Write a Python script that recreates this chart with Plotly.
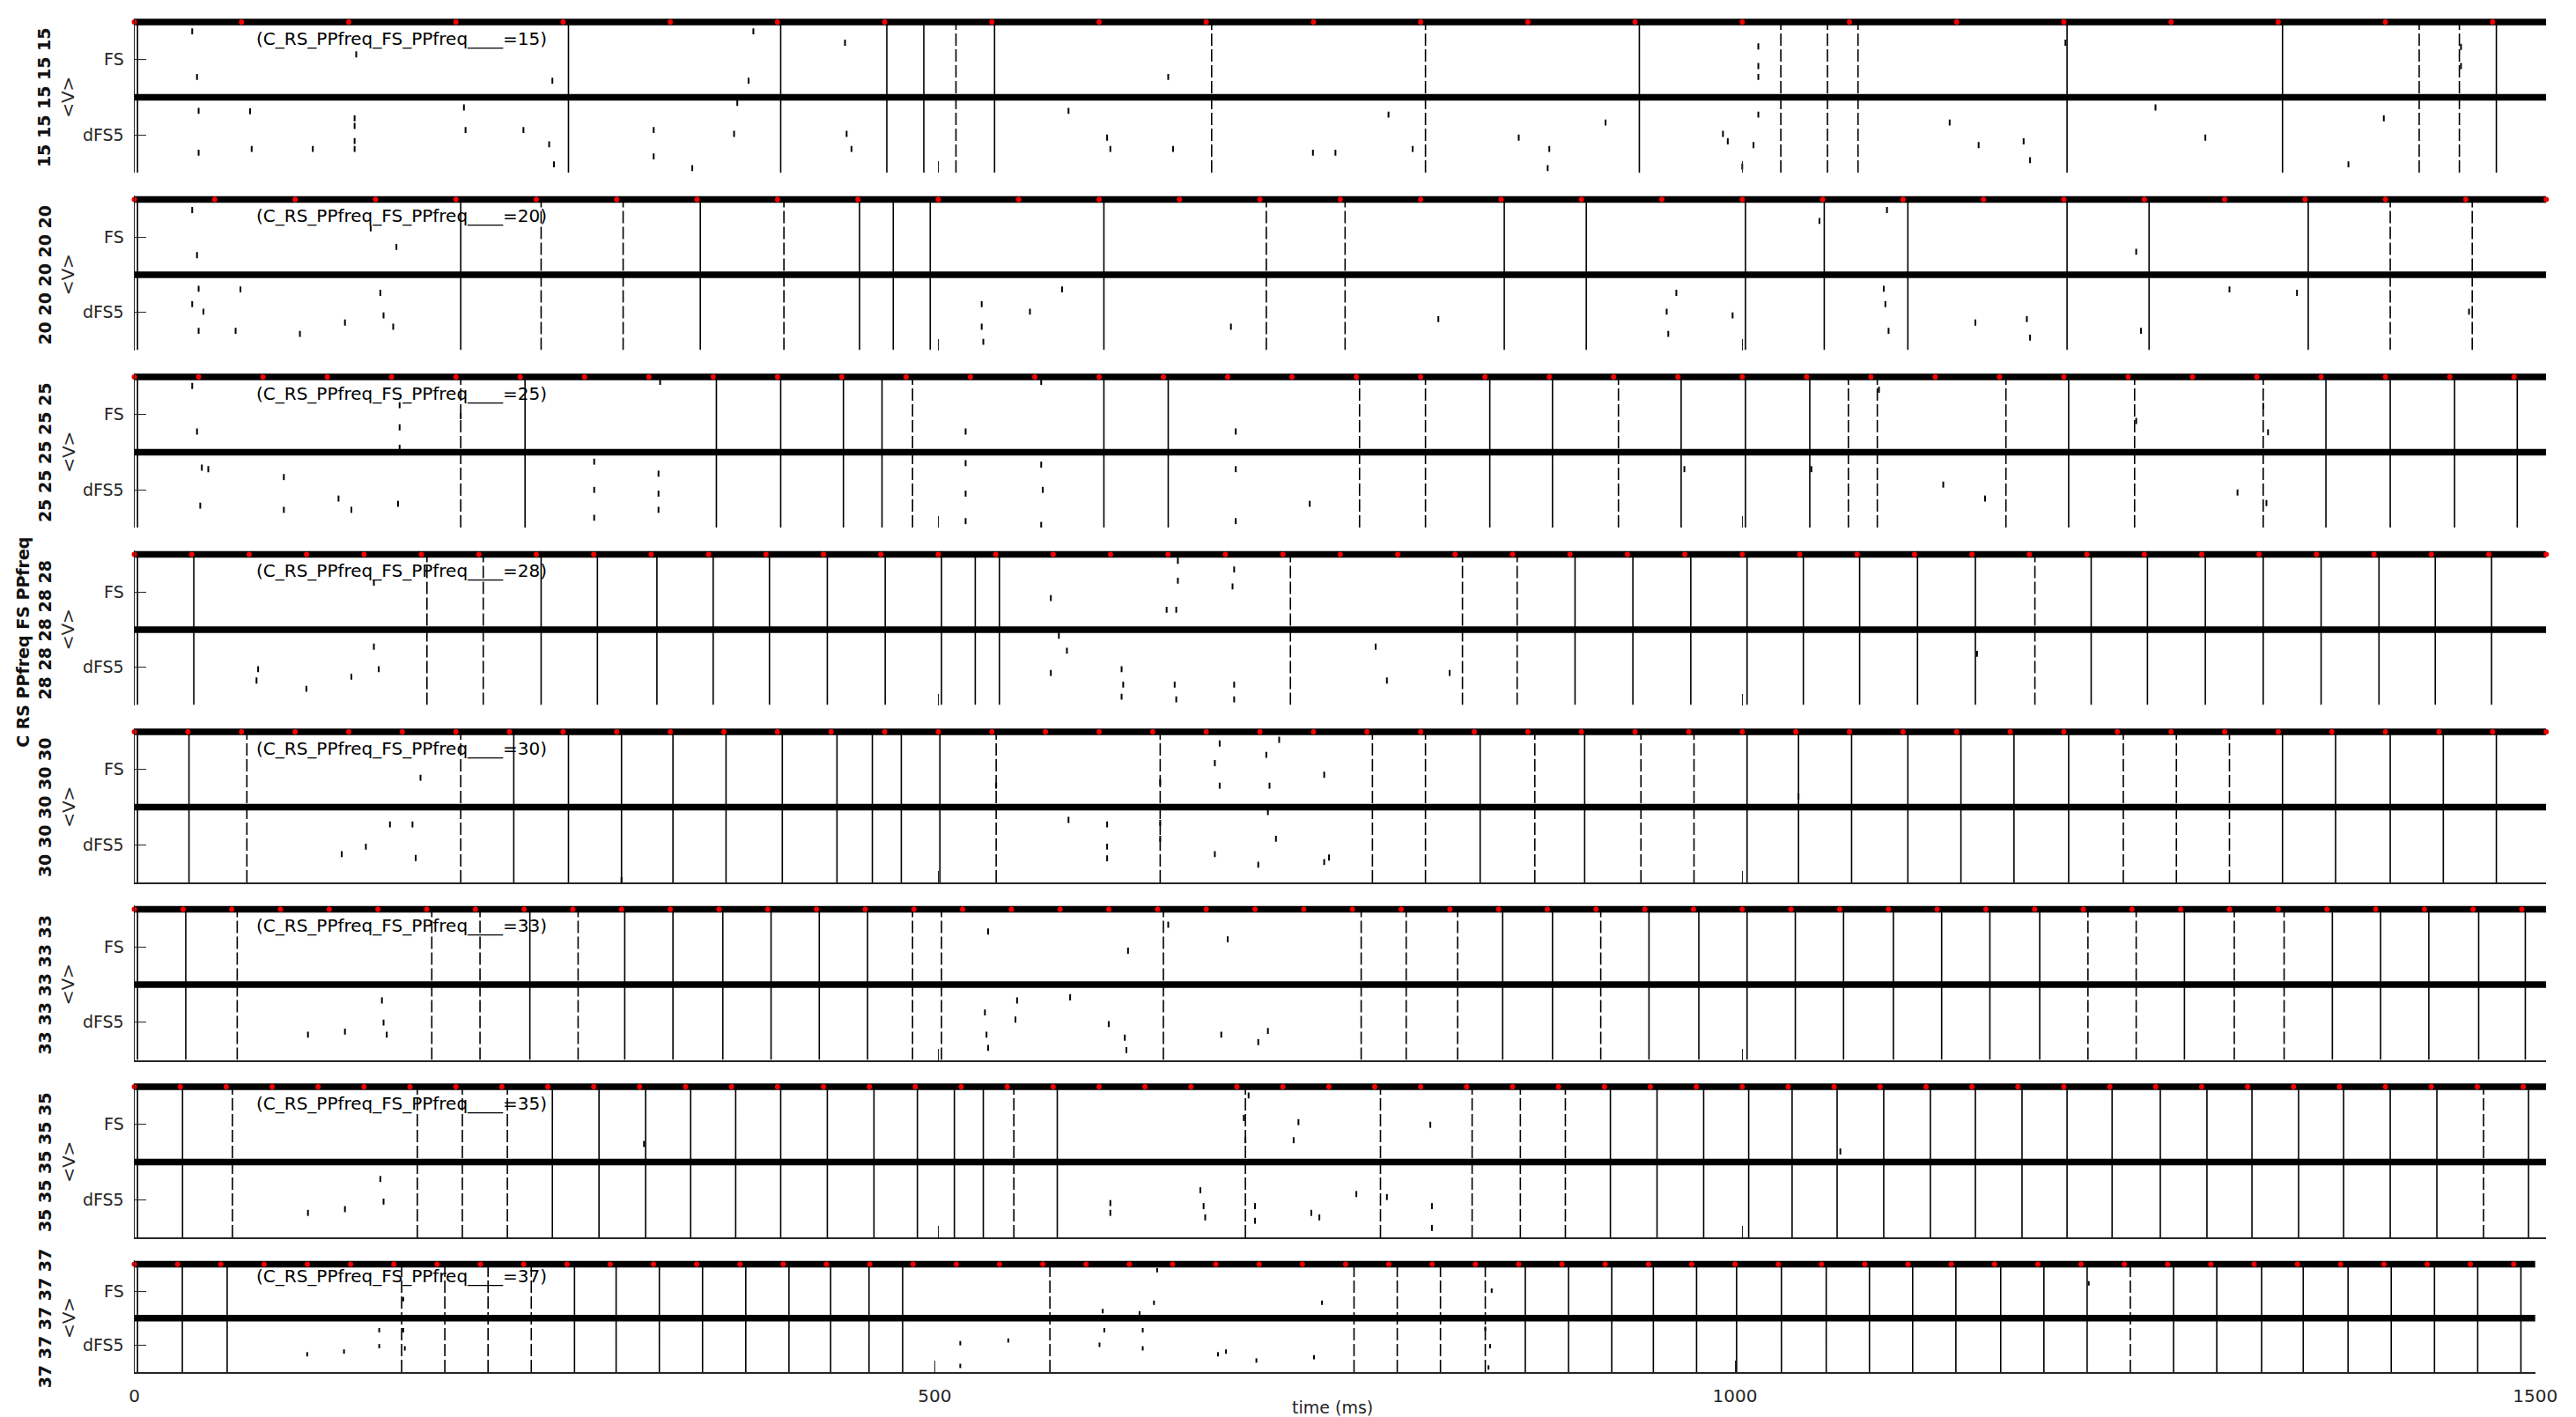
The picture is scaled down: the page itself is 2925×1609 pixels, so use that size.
import plotly.graph_objects as go

# ---------------- data ----------------
freqs = [15, 20, 25, 28, 30, 33, 35, 37]
x_ticks = [0, 500, 1000, 1500]
x_tick_labels = ["0", "500", "1000", "1500"]
y_ticks = [10, 30]
y_tick_labels = ["dFS5", "FS"]
t_end = 1500

# population volleys (ms): near-complete (solid) and broken (dashed)
solid_15 = [2, 270, 402, 468, 491, 535, 936, 1202, 1336, 1469]
dashed_15 = [511, 670, 803, 1024, 1053, 1072, 1421, 1446]
solid_20 = [2, 203, 352, 451, 472, 495, 603, 852, 903, 1002, 1051, 1103, 1202, 1253, 1352]
dashed_20 = [253, 304, 404, 704, 753, 1403, 1454]
solid_25 = [2, 243, 362, 402, 441, 465, 603, 643, 843, 882, 962, 1002, 1042, 1203, 1363, 1403, 1443, 1482]
dashed_25 = [203, 484, 762, 803, 923, 1066, 1084, 1164, 1244, 1324]
solid_28 = [2, 37, 253, 288, 325, 360, 395, 431, 467, 502, 523, 538, 896, 932, 968, 1003, 1038,
            1073, 1109, 1145, 1217, 1252, 1288, 1324, 1360, 1396, 1431, 1466]
dashed_28 = [182, 217, 719, 826, 860, 1182]
solid_30 = [2, 34, 236, 270, 303, 335, 368, 403, 437, 459, 477, 501, 837, 902, 1003, 1035, 1068,
            1103, 1136, 1169, 1203, 1336, 1369, 1403, 1436, 1469]
dashed_30 = [70, 203, 536, 638, 770, 803, 871, 937, 970, 1237, 1270, 1303]
solid_33 = [2, 32, 246, 305, 335, 366, 396, 426, 456, 851, 882, 942, 973, 1003, 1033, 1063, 1094,
            1124, 1154, 1185, 1275, 1367, 1397, 1427, 1458, 1487]
dashed_33 = [64, 185, 215, 276, 484, 502, 640, 763, 791, 823, 912, 1215, 1245, 1306, 1337]
solid_35 = [2, 30, 260, 289, 318, 346, 374, 402, 431, 460, 487, 510, 528, 574, 918, 947, 976, 1004,
            1031, 1059, 1088, 1117, 1145, 1174, 1202, 1230, 1260, 1289, 1317, 1346, 1374, 1403, 1432, 1489]
dashed_35 = [61, 176, 204, 232, 547, 691, 775, 832, 862, 890, 1461]
solid_37 = [2, 30, 58, 275, 301, 328, 355, 382, 409, 435, 459, 480, 869, 896, 923, 949, 976, 1001,
            1029, 1057, 1084, 1111, 1138, 1166, 1193, 1220, 1274, 1301, 1329, 1355, 1383, 1410, 1437,
            1464, 1491]
dashed_37 = [167, 194, 221, 248, 572, 762, 789, 816, 844, 1247]

# isolated spikes: (time ms, cell row; dFS5 rows 0-20, FS rows 20-40)
sparse_15 = [(36, 37.5), (138, 31.4), (39, 25.4), (260, 24.4), (385, 37.5), (442, 34.5), (382, 24.4),
             (643, 25.4), (72, 16.3), (40, 16.4), (137, 14.4), (137, 12.4), (137, 8.4), (137, 6.3),
             (205, 17.3), (206, 11.3), (242, 11.3), (73, 6.3), (111, 6.3), (40, 5.3), (323, 11.3),
             (323, 4.3), (347, 1.2), (375, 18.5), (373, 10.3), (443, 10.3), (446, 6.3), (261, 2.2),
             (258, 7.5), (581, 16.4), (605, 9.3), (607, 6.3), (646, 6.3), (733, 5.3), (780, 15.4),
             (795, 6.3), (861, 9.3), (880, 6.3), (879, 1.2), (915, 13.3), (1010, 28.3), (1010, 25.4),
             (1010, 33.5), (1010, 15.4), (988, 10.3), (991, 8.3), (1007, 7.3), (1000, 1.6), (1129, 13.3),
             (1147, 7.3), (1175, 8.3), (1179, 3.3), (1257, 17.3), (1288, 9.3), (1377, 2.2), (1399, 14.4),
             (1447, 33.4), (1447, 28.3), (747, 5.3), (1201, 34.5)]
sparse_20 = [(36, 37.2), (39, 25.2), (163, 27.4), (147, 32.3), (66, 16.1), (40, 16.3), (36, 12.2),
             (43, 10.2), (153, 15.2), (155, 9.2), (131, 7.3), (161, 6.2), (40, 5.1), (63, 5.1), (103, 4.3),
             (577, 16.1), (527, 12.2), (557, 10.2), (527, 6.2), (528, 2.2), (682, 6.2), (1090, 37.2),
             (1048, 34.3), (1245, 26.1), (959, 15.2), (953, 10.2), (811, 8.2), (994, 9.2), (954, 4.3),
             (1088, 16.3), (1089, 12.2), (1091, 5.1), (1145, 7.3), (1177, 8.2), (1179, 3.3), (1303, 16.1),
             (1345, 15.2), (1248, 5.1), (1452, 10.2)]
sparse_25 = [(36, 37.6), (39, 25.5), (165, 32.5), (165, 26.6), (203, 29.6), (517, 25.5), (564, 38.7),
             (685, 25.5), (327, 38.7), (165, 21.2), (41, 5.8), (93, 4.7), (127, 7.7), (135, 4.7),
             (164, 6.3), (286, 2.6), (326, 4.7), (517, 1.7), (564, 0.7), (685, 1.7), (731, 6.3),
             (42, 15.9), (46, 15.5), (93, 13.4), (286, 17.5), (326, 14.3), (517, 17.1), (564, 16.7),
             (685, 15.5), (1085, 36.6), (1324, 32.3), (1327, 25.3), (1245, 28.3), (964, 15.5),
             (1043, 15.5), (1125, 11.4), (1151, 7.7), (1308, 9.3), (1326, 6.5), (286, 10), (326, 9),
             (517, 9), (565, 10)]
sparse_28 = [(149, 32.5), (570, 28.4), (642, 25.3), (648, 25.3), (683, 31.5), (649, 38.3), (149, 15.5),
             (575, 18.4), (580, 14.4), (570, 8.5), (77, 9.5), (76, 6.5), (107, 4.3), (135, 7.5),
             (152, 9.5), (614, 9.5), (615, 5.4), (614, 2.2), (647, 5.4), (648, 1.5), (684, 5.4),
             (684, 1.5), (772, 15.5), (779, 6.5), (818, 8.5), (1146, 13.6), (649, 33), (684, 36)]
sparse_30 = [(178, 27.8), (536, 25.7), (638, 26.6), (675, 36.9), (672, 31.7), (704, 33.9), (712, 37.9),
             (706, 25.7), (675, 25.7), (740, 28.6), (159, 15.4), (173, 15.4), (144, 9.5), (129, 7.5),
             (175, 6.5), (581, 16.6), (605, 15.4), (638, 15.8), (605, 9.5), (605, 6.4), (638, 11.6),
             (672, 7.5), (710, 11.6), (699, 4.7), (740, 5.4), (705, 18.7), (303, 0.6), (743, 6.6),
             (1035, 22.8)]
sparse_33 = [(531, 34.1), (618, 29), (680, 32), (643, 35.9), (154, 15.8), (155, 9.9), (157, 6.7),
             (131, 7.5), (108, 6.7), (582, 16.6), (549, 15.8), (529, 12.6), (548, 10.7), (530, 6.7),
             (531, 3.2), (606, 9.5), (616, 5.9), (617, 2.6), (676, 6.7), (699, 4.7), (705, 7.7)]
sparse_35 = [(693, 37.7), (690, 31.7), (724, 30.6), (721, 25.8), (691, 25.8), (317, 24.8), (153, 15.5),
             (155, 9.5), (131, 7.5), (108, 6.5), (663, 12.5), (665, 8.3), (666, 5.3), (607, 9.1),
             (607, 6.5), (697, 8.3), (697, 4.4), (737, 5.3), (732, 6.5), (806, 29.9), (760, 11.5),
             (779, 10.7), (807, 8.3), (807, 2.5), (1061, 22.8)]
sparse_37 = [(168, 27), (605, 22.6), (628, 21.8), (637, 25.7), (742, 25.7), (639, 37.8), (153, 15.5),
             (168, 15.5), (153, 9.6), (169, 8.8), (131, 7.6), (108, 6.6), (546, 11.7), (516, 10.7),
             (516, 2.3), (606, 15.5), (603, 10.1), (630, 15.5), (630, 8.8), (677, 6.6), (682, 7.6),
             (701, 4.3), (737, 5.5), (848, 30.2), (844, 16.1), (847, 9.6), (846, 1.7), (1221, 32.9)]

solids = [solid_15, solid_20, solid_25, solid_28, solid_30, solid_33, solid_35, solid_37]
dasheds = [dashed_15, dashed_20, dashed_25, dashed_28, dashed_30, dashed_33, dashed_35, dashed_37]
sparses = [sparse_15, sparse_20, sparse_25, sparse_28, sparse_30, sparse_33, sparse_35, sparse_37]

# ---------------- layout geometry (pixels) ----------------
W, H = 2925, 1609
LEFT = 140
tops = [17 + 201.5 * i for i in range(7)] + [1427.5]
bottoms = [188 + 201.5 * i for i in range(7)] + [1550]
rights = [2908] * 7 + [2895.5]
FONT = "DejaVu Sans"
GRAY = "#262626"

fig = go.Figure()
layout = dict(width=W, height=H, autosize=False, margin=dict(l=0, r=0, t=0, b=0),
              paper_bgcolor="white", plot_bgcolor="white", showlegend=False)
annotations = []

for i, f in enumerate(freqs):
    n = i + 1
    xa = "x" if n == 1 else f"x{n}"
    ya = "y" if n == 1 else f"y{n}"
    top, bot = tops[i], bottoms[i]
    rows_per_px = 40.0 / (bot - top)
    ytop = 40 + 4.5 * rows_per_px

    # solid volleys
    xs, ys = [], []
    for t in solids[i]:
        xs += [t, t, None]
        ys += [0, 40, None]
    fig.add_trace(go.Scatter(x=xs, y=ys, mode="lines", xaxis=xa, yaxis=ya,
                             line=dict(color="black", width=1.6), hoverinfo="skip"))
    # dashed volleys
    xs, ys = [], []
    for t in dasheds[i]:
        xs += [t, t, None]
        ys += [0, 40, None]
    fig.add_trace(go.Scatter(x=xs, y=ys, mode="lines", xaxis=xa, yaxis=ya,
                             line=dict(color="black", width=1.6, dash="14px,4px"), hoverinfo="skip"))
    # isolated spikes
    xs, ys = [], []
    for t, r in sparses[i]:
        xs += [t, t, None]
        ys += [r - 0.8, r + 0.8, None]
    fig.add_trace(go.Scatter(x=xs, y=ys, mode="lines", xaxis=xa, yaxis=ya,
                             line=dict(color="black", width=2), hoverinfo="skip"))
    # thick continuously-firing rows
    fig.add_trace(go.Scatter(x=[0, t_end, None, 0, t_end], y=[40, 40, None, 20, 20], mode="lines",
                             xaxis=xa, yaxis=ya, line=dict(color="black", width=7.5), hoverinfo="skip"))
    # pulse times (red dots)
    period = 1000.0 / f
    pulses = []
    k = 0
    while k * period <= t_end + 1e-9:
        pulses.append(k * period)
        k += 1
    fig.add_trace(go.Scatter(x=pulses, y=[40] * len(pulses), mode="markers", xaxis=xa, yaxis=ya,
                             cliponaxis=False, marker=dict(color="#ff0000", size=6), hoverinfo="skip"))

    ydom = [1 - bot / H, 1 - (top - 4.5) / H]
    xdom = [LEFT / W, rights[i] / W]
    last = (n == len(freqs))
    layout["xaxis" if n == 1 else f"xaxis{n}"] = dict(
        domain=xdom, range=[0, t_end], anchor=ya, showgrid=False, zeroline=False,
        ticks="inside", ticklen=13, tickwidth=1, tickcolor=GRAY, tickvals=x_ticks,
        ticktext=x_tick_labels, showticklabels=last, ticklabelstandoff=8,
        tickfont=dict(family=FONT, size=20, color=GRAY),
        showline=(n >= 5), linecolor=GRAY, linewidth=1.5)
    layout["yaxis" if n == 1 else f"yaxis{n}"] = dict(
        domain=ydom, range=[0, ytop], anchor=xa, showgrid=False, zeroline=False,
        ticks="inside", ticklen=13, tickwidth=1, tickcolor=GRAY, tickvals=y_ticks,
        ticktext=y_tick_labels, ticklabelstandoff=7,
        tickfont=dict(family=FONT, size=19, color=GRAY),
        showline=True, linecolor=GRAY, linewidth=1)

    # in-panel label
    annotations.append(dict(text=f"(C_RS_PPfreq_FS_PPfreq____={f})", xref=xa, yref=ya,
                            x=75, y=35.6, xanchor="left", yanchor="middle", showarrow=False,
                            font=dict(family=FONT, size=20, color="black")))
    ymid = 1 - (top + bot) / 2 / H
    annotations.append(dict(text="<b>" + " ".join([str(f)] * 5) + "</b>", xref="paper", yref="paper",
                            x=37 / W, y=ymid, xanchor="center", yanchor="middle", textangle=-90,
                            showarrow=False, font=dict(family=FONT, size=19, color="#111111")))
    annotations.append(dict(text="&lt;V&gt;", xref="paper", yref="paper", x=64 / W, y=ymid,
                            xanchor="center", yanchor="middle", textangle=-90, showarrow=False,
                            font=dict(family=FONT, size=20, color=GRAY)))

annotations.append(dict(text="<b>C RS PPfreq FS PPfreq</b>", xref="paper", yref="paper",
                        x=12 / W, y=1 - 721 / H, xanchor="center", yanchor="middle", textangle=-90,
                        showarrow=False, font=dict(family=FONT, size=19, color="#111111")))
annotations.append(dict(text="time (ms)", xref="paper", yref="paper", x=1515 / W, y=1 - 1590 / H,
                        xanchor="center", yanchor="middle", showarrow=False,
                        font=dict(family=FONT, size=19, color=GRAY)))

layout["annotations"] = annotations
fig.update_layout(**layout)
fig.write_html("out.html")
